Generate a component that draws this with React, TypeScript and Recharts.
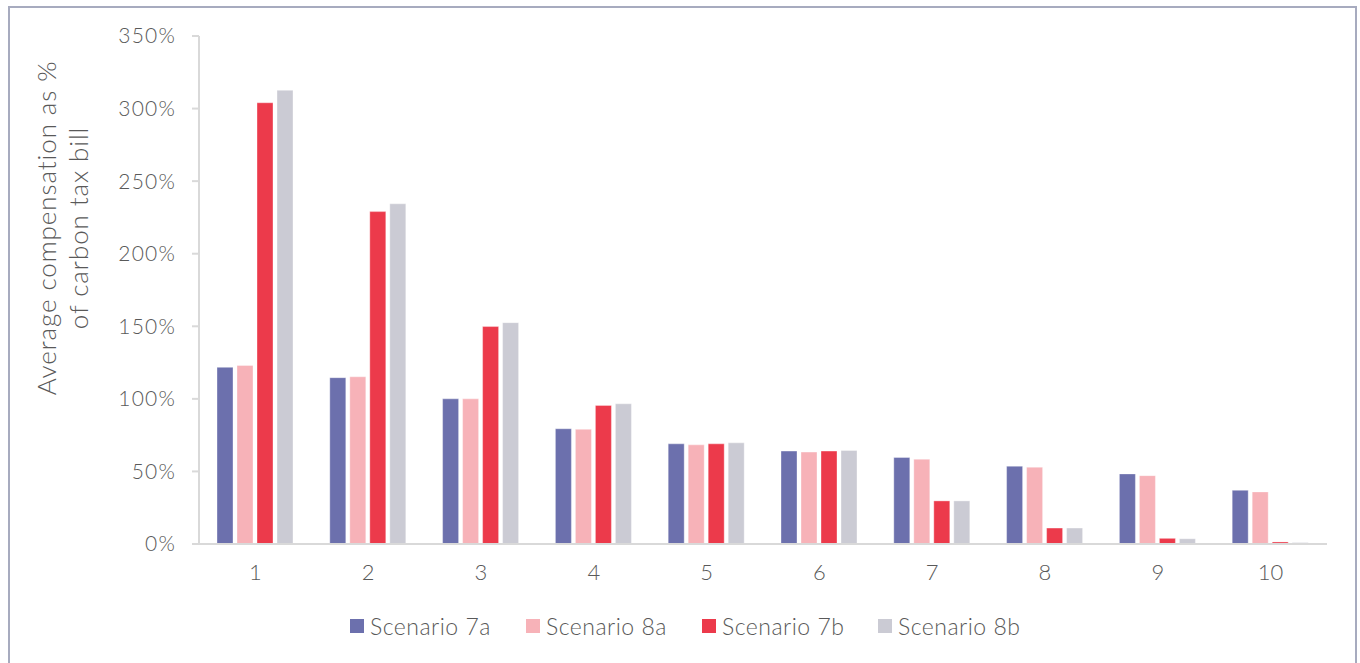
import React from 'react';
import { BarChart, Bar, XAxis, YAxis, Legend } from 'recharts';

// income deciles on the x axis
const deciles = ['1', '2', '3', '4', '5', '6', '7', '8', '9', '10'];

// average compensation, % of carbon tax bill
const scenario7a = [121.7, 114.6, 100, 79.4, 69, 64, 59.6, 53.6, 48.3, 37];
const scenario8a = [123, 115.2, 100, 79, 68.3, 63.3, 58.4, 52.9, 47.1, 35.9];
const scenario7b = [304, 229, 149.8, 95.5, 69, 64, 29.7, 11, 3.9, 1.4];
const scenario8b = [312.6, 234.4, 152.5, 96.6, 69.7, 64.4, 29.7, 11, 3.6, 1];

const yTicks = [0, 50, 100, 150, 200, 250, 300, 350];

const series = [
  { key: 's7a', name: 'Scenario 7a', color: '#6c70ad' },
  { key: 's8a', name: 'Scenario 8a', color: '#f7b2b8' },
  { key: 's7b', name: 'Scenario 7b', color: '#ec3a4b' },
  { key: 's8b', name: 'Scenario 8b', color: '#cbcbd4' },
];

const data = deciles.map((d, i) => ({
  decile: d,
  s7a: scenario7a[i],
  s8a: scenario8a[i],
  s7b: scenario7b[i],
  s8b: scenario8b[i],
}));

const FONT = 'Lato, "Noto Sans", sans-serif';
const TEXT = '#595959';
const AXIS = '#d9d9d9';

const renderLegend = () => (
  <div
    style={{
      display: 'flex',
      paddingLeft: 350,
      fontFamily: FONT,
      fontWeight: 300,
      fontSize: 23,
      letterSpacing: 0.5,
      color: TEXT,
      lineHeight: '26px',
    }}
  >
    {series.map((s) => (
      <div key={s.key} style={{ width: 176, display: 'flex', alignItems: 'center' }}>
        <span
          style={{ width: 14, height: 14, background: s.color, marginRight: 6, display: 'inline-block' }}
        />
        <span>{s.name}</span>
      </div>
    ))}
  </div>
);

const YLabel = () => (
  <g fill={TEXT} fontFamily={FONT} fontWeight={300} fontSize={26} letterSpacing={0.9}>
    <text transform="translate(46, 228) rotate(-90)" textAnchor="middle" dominantBaseline="central">
      Average compensation as %
    </text>
    <text transform="translate(78, 228) rotate(-90)" textAnchor="middle" dominantBaseline="central">
      of carbon tax bill
    </text>
  </g>
);

export default function App() {
  return (
    <div>
      <div
        style={{
          position: 'absolute',
          left: 8,
          top: 6,
          width: 1349,
          height: 680,
          boxSizing: 'border-box',
          border: '2px solid #a7abbf',
        }}
      />
      <div style={{ position: 'absolute', left: 0, top: 0 }}>
        <BarChart
          width={1360}
          height={663}
          data={data}
          margin={{ top: 36, right: 33, bottom: 13, left: 0 }}
          barCategoryGap={18}
          barGap={4}
        >
          <XAxis
            dataKey="decile"
            tickLine={false}
            axisLine={{ stroke: AXIS, strokeWidth: 2 }}
            tick={{ fill: TEXT, fontSize: 22, fontFamily: FONT, fontWeight: 300 }}
            tickMargin={14}
            height={80}
          />
          <YAxis
            width={199}
            domain={[0, 350]}
            ticks={yTicks}
            tickFormatter={(v) => `${v}%`}
            axisLine={{ stroke: AXIS, strokeWidth: 2 }}
            tickLine={{ stroke: AXIS, strokeWidth: 2 }}
            tickSize={7}
            tickMargin={16}
            tick={{ fill: TEXT, fontSize: 21, fontFamily: FONT, fontWeight: 300, letterSpacing: 1.2 }}
            label={<YLabel />}
          />
          <Legend
            content={renderLegend}
            wrapperStyle={{ position: 'absolute', top: 613, left: 0, width: 1360 }}
          />
          {series.map((s) => (
            <Bar
              key={s.key}
              dataKey={s.key}
              name={s.name}
              fill={s.color}
              stroke="#ffffff"
              strokeOpacity={0.35}
              strokeWidth={1}
              isAnimationActive={false}
            />
          ))}
        </BarChart>
      </div>
    </div>
  );
}
